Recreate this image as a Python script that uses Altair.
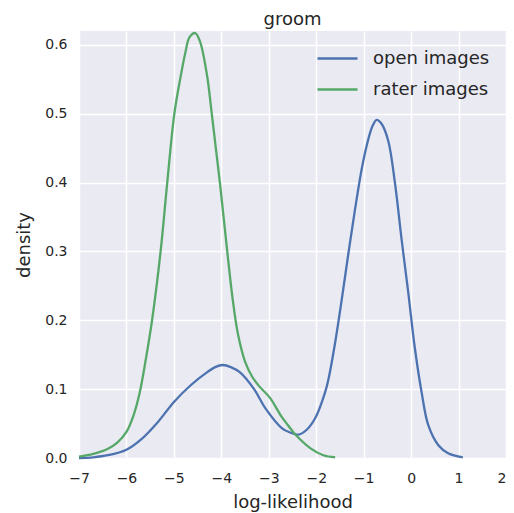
import altair as alt
import pandas as pd

series_names = ["open images", "rater images"]
series_colors = ["#4C72B0", "#55A868"]

open_x = [-7.0, -6.7, -6.39, -6.0, -5.69, -5.34, -4.99, -4.64, -4.29, -4.13, -3.97, -3.8,
          -3.6, -3.31, -3.07, -2.72, -2.55, -2.37, -2.2, -2.02, -1.81, -1.74, -1.6, -1.46,
          -1.32, -1.18, -1.04, -0.92, -0.82, -0.725, -0.62, -0.48, -0.34, -0.2, -0.06, 0.08,
          0.22, 0.36, 0.57, 0.78, 1.09]
open_y = [0.0, 0.001, 0.004, 0.012, 0.027, 0.052, 0.082, 0.106, 0.125, 0.132, 0.135, 0.132,
          0.124, 0.100, 0.072, 0.043, 0.037, 0.034, 0.041, 0.058, 0.096, 0.115, 0.168, 0.231,
          0.298, 0.362, 0.420, 0.458, 0.481, 0.491, 0.485, 0.460, 0.399, 0.317, 0.240, 0.159,
          0.096, 0.048, 0.019, 0.007, 0.001]

rater_x = [-7.0, -6.7, -6.4, -6.2, -6.0, -5.85, -5.72, -5.6, -5.46, -5.28, -5.14, -4.99,
           -4.86, -4.76, -4.67, -4.55, -4.45, -4.3, -4.21, -4.12, -4.03, -3.88, -3.76, -3.65,
           -3.5, -3.35, -3.2, -2.97, -2.75, -2.6, -2.44, -2.12, -1.85, -1.6]
rater_y = [0.002, 0.006, 0.013, 0.022, 0.038, 0.062, 0.095, 0.140, 0.200, 0.300, 0.400, 0.500,
           0.553, 0.588, 0.611, 0.617, 0.605, 0.555, 0.505, 0.452, 0.400, 0.303, 0.230, 0.180,
           0.140, 0.118, 0.104, 0.087, 0.062, 0.048, 0.034, 0.014, 0.004, 0.001]

x_ticks = [-7, -6, -5, -4, -3, -2, -1, 0, 1, 2]
y_ticks = [0.0, 0.1, 0.2, 0.3, 0.4, 0.5, 0.6]

df = pd.concat([
    pd.DataFrame({"x": open_x, "y": open_y, "series": series_names[0], "order": 0}),
    pd.DataFrame({"x": rater_x, "y": rater_y, "series": series_names[1], "order": 1}),
])

FONT = "DejaVu Sans"
TXT = "#262626"

chart = alt.Chart(df).mark_line(strokeWidth=2.3, interpolate="catmull-rom").encode(
    x=alt.X("x:Q", title="log-likelihood",
            scale=alt.Scale(domain=[-7, 2], nice=False),
            axis=alt.Axis(values=x_ticks, format="d", labelPadding=13, titlePadding=8,
                          labelFlush=False,
                          labelAlign={"condition": {"test": "datum.value === 2", "value": "right"},
                                      "value": "center"})),
    y=alt.Y("y:Q", title="density",
            scale=alt.Scale(domain=[0, 0.62], nice=False),
            axis=alt.Axis(values=y_ticks, format=".1f", labelPadding=12, titlePadding=11)),
    color=alt.Color("series:N",
                    scale=alt.Scale(domain=series_names, range=series_colors),
                    legend=alt.Legend(title=None, orient="none", legendX=237, legendY=6,
                                      symbolType="stroke", symbolSize=1600,
                                      symbolStrokeWidth=2.5, rowPadding=-13,
                                      labelOffset=14, labelFontSize=18, labelFont=FONT,
                                      labelColor=TXT, padding=0)),
    order=alt.Order("order:Q"),
).properties(
    width=427, height=427,
    title=alt.TitleParams("groom", fontSize=18, font=FONT, color=TXT, fontWeight="normal", offset=-1),
    autosize=alt.AutoSizeParams(type="none"),
    padding={"left": 71, "top": 23, "right": 0, "bottom": 56},
).configure_view(
    fill="#EAEAF2", stroke=None
).configure_axis(
    domain=False, ticks=False, grid=True, gridColor="white", gridWidth=1.5,
    labelFont=FONT, labelFontSize=14, labelColor=TXT,
    titleFont=FONT, titleFontSize=18, titleColor=TXT, titleFontWeight="normal",
)

chart.save("out.html", embed_options={"renderer": "svg", "actions": False})
